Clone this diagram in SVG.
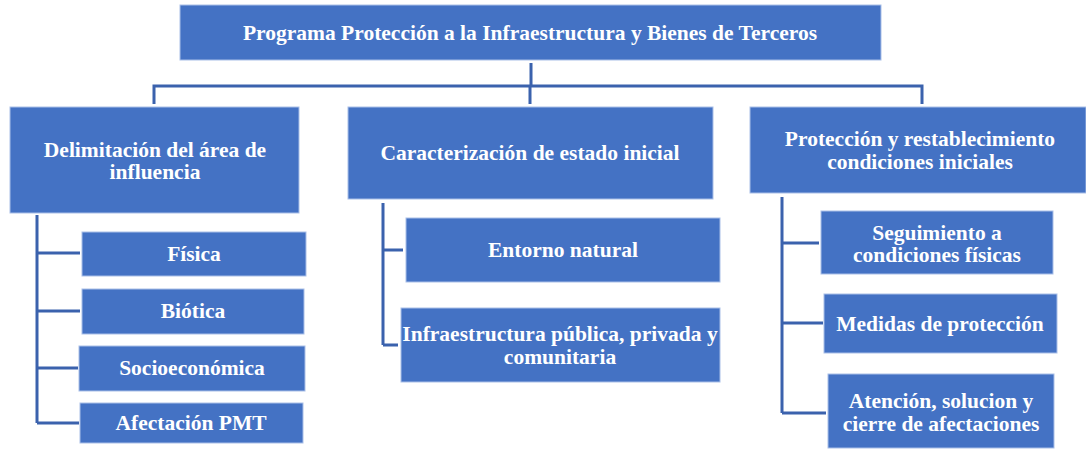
<svg xmlns="http://www.w3.org/2000/svg" width="1086" height="449" viewBox="0 0 1086 449">
<style>
.box{fill:#4472c4;stroke:#a9bfe8;stroke-width:1}
.t{font-family:"Liberation Serif","Times New Roman",serif;font-weight:bold;font-size:21.5px;fill:#ffffff;text-anchor:middle}
.c{fill:none;stroke:#3b62ad;stroke-width:3}
</style>
<rect width="1086" height="449" fill="#ffffff"/>
<g id="connectors">
<path class="c" d="M531 63V86M154 104V86H922V104M530 86V104"/>
<path class="c" d="M37 215V423M37 253H80M37 311H80M37 368H78M37 423H79"/>
<path class="c" d="M383 203V345M383 250H403M383 345H398"/>
<path class="c" d="M782 197V413M782 243H819M782 323H823M782 413H826"/>
</g>
<g id="n-root"><rect class="box" x="180" y="5" width="701" height="55"/><text class="t" x="530" y="40">Programa Protección a la Infraestructura y Bienes de Terceros</text></g>
<g id="n-delim"><rect class="box" x="10" y="107" width="289" height="106"/><text class="t" x="155" y="157">Delimitación del área de</text><text class="t" x="155" y="179">influencia</text></g>
<g id="n-carac"><rect class="box" x="348" y="107" width="365" height="92"/><text class="t" x="530" y="160">Caracterización de estado inicial</text></g>
<g id="n-prot"><rect class="box" x="750" y="107" width="336" height="86"/><text class="t" x="920" y="146">Protección y restablecimiento</text><text class="t" x="920" y="169">condiciones iniciales</text></g>
<g id="n-fisica"><rect class="box" x="82" y="232" width="224" height="44"/><text class="t" x="194" y="261">Física</text></g>
<g id="n-biotica"><rect class="box" x="82" y="289" width="222" height="45"/><text class="t" x="193" y="318">Biótica</text></g>
<g id="n-socio"><rect class="box" x="79" y="346" width="226" height="45"/><text class="t" x="192" y="375">Socioeconómica</text></g>
<g id="n-pmt"><rect class="box" x="80" y="403" width="223" height="40"/><text class="t" x="191" y="430">Afectación PMT</text></g>
<g id="n-entorno"><rect class="box" x="406" y="218" width="314" height="64"/><text class="t" x="563" y="257">Entorno natural</text></g>
<g id="n-infra"><rect class="box" x="401" y="308" width="319" height="74"/><text class="t" x="560" y="341">Infraestructura pública, privada y</text><text class="t" x="560" y="364">comunitaria</text></g>
<g id="n-seg"><rect class="box" x="821" y="211" width="232" height="63"/><text class="t" x="937" y="240">Seguimiento a</text><text class="t" x="937" y="262">condiciones físicas</text></g>
<g id="n-medidas"><rect class="box" x="824" y="294" width="233" height="59"/><text class="t" x="940" y="331">Medidas de protección</text></g>
<g id="n-atencion"><rect class="box" x="828" y="374" width="226" height="74"/><text class="t" x="941" y="408">Atención, solucion y</text><text class="t" x="941" y="431">cierre de afectaciones</text></g>
</svg>
